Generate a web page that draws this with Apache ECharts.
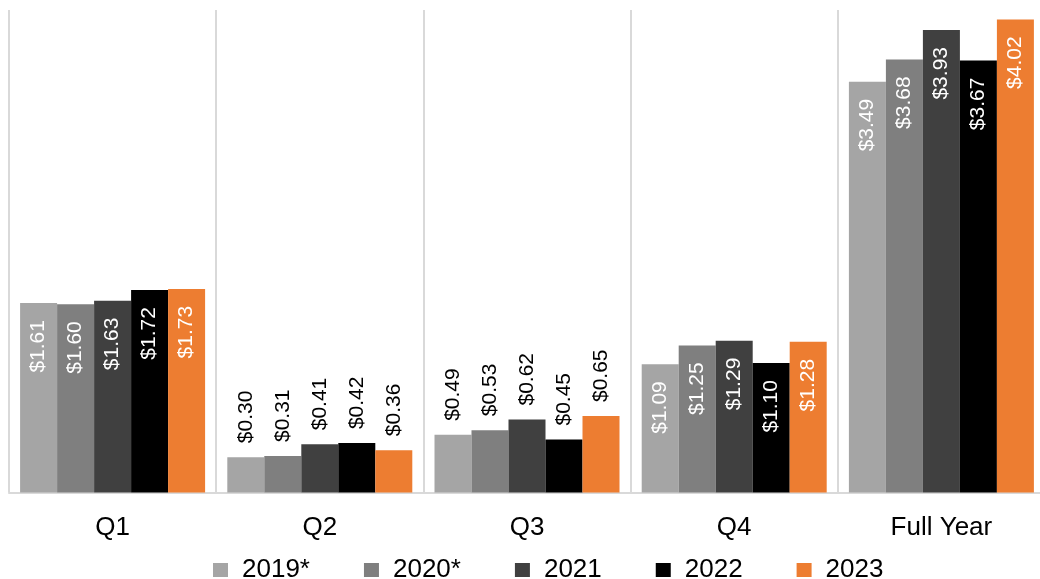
<!DOCTYPE html>
<html>
<head>
<meta charset="utf-8">
<title>EPS by quarter</title>
<script src="https://cdn.jsdelivr.net/npm/echarts@6/dist/echarts.min.js"></script>
<style>
  html, body { margin: 0; padding: 0; background: #fff; overflow: hidden; }
  /* the plot runs slightly past the right edge of the window */
  #chart { width: 1046px; height: 579px; }
</style>
</head>
<body>
<div id="chart"></div>
<script>
// Periods on the category axis
const categories = ['Q1', 'Q2', 'Q3', 'Q4', 'Full Year'];

// Earnings per share, one array per year
const seriesNames = ['2019*', '2020*', '2021', '2022', '2023'];
const eps2019 = [1.61, 0.30, 0.49, 1.09, 3.49];
const eps2020 = [1.60, 0.31, 0.53, 1.25, 3.68];
const eps2021 = [1.63, 0.41, 0.62, 1.29, 3.93];
const eps2022 = [1.72, 0.42, 0.45, 1.10, 3.67];
const eps2023 = [1.73, 0.36, 0.65, 1.28, 4.02];
const seriesValues = [eps2019, eps2020, eps2021, eps2022, eps2023];

// Periods whose bars are too short to hold their label inside
const outsideLabelPeriods = ['Q2', 'Q3'];

const colors = ['#a5a5a5', '#7f7f7f', '#404040', '#000000', '#ed7d31'];
const FONT = "'Liberation Sans', Arial, Helvetica, sans-serif";

const fmt = v => '$' + v.toFixed(2);

const insideLabel = {
  show: true,
  position: 'insideTop',
  rotate: 90,
  align: 'right',
  verticalAlign: 'middle',
  distance: 17,
  color: '#ffffff',
  fontFamily: FONT,
  fontSize: 21,
  formatter: p => fmt(p.value)
};

const outsideLabel = {
  show: true,
  position: 'top',
  rotate: 90,
  align: 'left',
  verticalAlign: 'middle',
  distance: 14,
  color: '#000000',
  fontFamily: FONT,
  fontSize: 21,
  formatter: p => fmt(p.value)
};

const series = seriesNames.map((name, i) => ({
  name: name,
  type: 'bar',
  barWidth: 37,
  barGap: '0%',
  itemStyle: { color: colors[i] },
  label: insideLabel,
  data: seriesValues[i].map((v, j) =>
    outsideLabelPeriods.includes(categories[j])
      ? { value: v, label: outsideLabel }
      : { value: v }
  )
}));

const chart = echarts.init(document.getElementById('chart'), null, { renderer: 'canvas' });

chart.setOption({
  animation: false,
  backgroundColor: '#ffffff',
  color: colors,
  grid: {
    left: 9,
    top: 10,
    width: 1036,
    bottom: 86.5,
    containLabel: false
  },
  legend: {
    data: seriesNames,
    left: 208,
    top: 552,
    icon: 'rect',
    itemWidth: 15,
    itemHeight: 14,
    itemGap: 54,
    textStyle: {
      color: '#000000',
      fontFamily: FONT,
      fontSize: 26,
      padding: [0, 0, 0, 9]
    }
  },
  xAxis: {
    type: 'category',
    data: categories,
    boundaryGap: true,
    axisLine: { show: true, lineStyle: { color: '#d9d9d9', width: 2 } },
    axisTick: { show: false },
    splitLine: {
      show: true,
      interval: 0,
      lineStyle: { color: '#d9d9d9', width: 2 }
    },
    axisLabel: {
      color: '#000000',
      fontFamily: FONT,
      fontSize: 26,
      margin: 22,
      interval: 0
    }
  },
  yAxis: {
    type: 'value',
    min: 0,
    max: 4.1,
    show: false,
    splitLine: { show: false }
  },
  series: series
});
</script>
</body>
</html>
